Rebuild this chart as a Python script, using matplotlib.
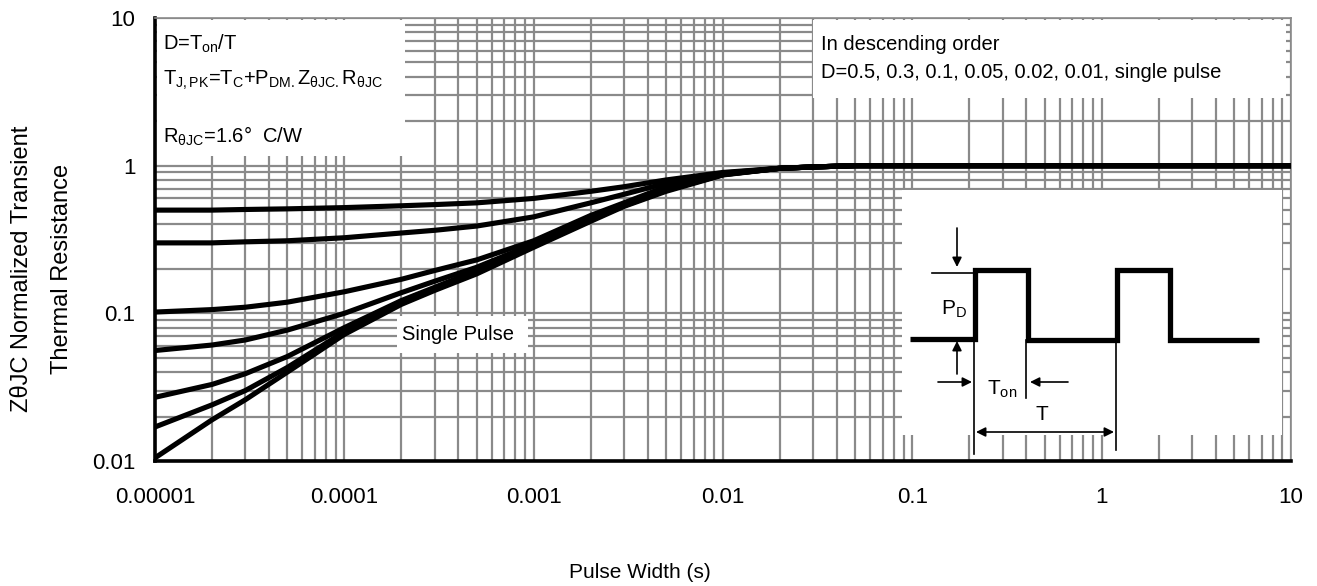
import numpy as np
import matplotlib
matplotlib.use("Agg")
import matplotlib.pyplot as plt
from matplotlib.patches import Rectangle
from matplotlib.ticker import FixedLocator, NullFormatter, LogLocator

plt.rcParams['font.family'] = ['Liberation Sans', 'DejaVu Sans']
plt.rcParams['mathtext.fontset'] = 'custom'
plt.rcParams['mathtext.rm'] = 'Liberation Sans'
plt.rcParams['mathtext.it'] = 'Liberation Sans'
plt.rcParams['mathtext.bf'] = 'Liberation Sans'

# ---------------- data ----------------
pulse_width = [1e-5, 2e-5, 3e-5, 5e-5, 1e-4, 2e-4, 3e-4, 5e-4, 1e-3, 2e-3, 3e-3, 5e-3,
               1e-2, 2e-2, 3e-2, 5e-2, 1e-1, 1.0, 10.0]
z_d050 = [0.50, 0.50, 0.505, 0.51, 0.52, 0.535, 0.545, 0.56, 0.60, 0.67, 0.72, 0.80,
          0.90, 0.96, 0.98, 1.0, 1.0, 1.0, 1.0]
z_d030 = [0.30, 0.30, 0.305, 0.31, 0.325, 0.35, 0.365, 0.39, 0.45, 0.56, 0.64, 0.76,
          0.89, 0.96, 0.98, 1.0, 1.0, 1.0, 1.0]
z_d010 = [0.102, 0.106, 0.110, 0.119, 0.14, 0.17, 0.195, 0.23, 0.31, 0.46, 0.56, 0.72,
          0.88, 0.96, 0.98, 1.0, 1.0, 1.0, 1.0]
z_d005 = [0.056, 0.061, 0.066, 0.077, 0.10, 0.138, 0.165, 0.205, 0.295, 0.445, 0.55, 0.70,
          0.875, 0.96, 0.98, 1.0, 1.0, 1.0, 1.0]
z_d002 = [0.027, 0.033, 0.039, 0.051, 0.080, 0.122, 0.150, 0.195, 0.29, 0.435, 0.54, 0.69,
          0.87, 0.96, 0.98, 1.0, 1.0, 1.0, 1.0]
z_d001 = [0.017, 0.024, 0.030, 0.043, 0.075, 0.118, 0.147, 0.19, 0.285, 0.43, 0.535, 0.68,
          0.87, 0.96, 0.98, 1.0, 1.0, 1.0, 1.0]
z_single = [0.0105, 0.019, 0.026, 0.040, 0.072, 0.115, 0.143, 0.185, 0.28, 0.42, 0.53, 0.67,
            0.865, 0.96, 0.98, 1.0, 1.0, 1.0, 1.0]
series = [z_d050, z_d030, z_d010, z_d005, z_d002, z_d001, z_single]

x_ticks = [1e-5, 1e-4, 1e-3, 1e-2, 1e-1, 1, 10]
x_tick_labels = ['0.00001', '0.0001', '0.001', '0.01', '0.1', '1', '10']
y_ticks = [0.01, 0.1, 1, 10]
y_tick_labels = ['0.01', '0.1', '1', '10']

# ---------------- figure ----------------
W, H = 1317, 586
fig = plt.figure(figsize=(W / 100, H / 100), dpi=100)
L, R, T, B = 155, 1291, 18, 461
ax = fig.add_axes([L / W, (H - B) / H, (R - L) / W, (B - T) / H])
ax.set_xscale('log')
ax.set_yscale('log')
ax.set_xlim(1e-5, 10)
ax.set_ylim(0.01, 10)

ax.xaxis.set_major_locator(FixedLocator(x_ticks))
ax.set_xticklabels(x_tick_labels)
ax.yaxis.set_major_locator(FixedLocator(y_ticks))
ax.set_yticklabels(y_tick_labels)
ax.xaxis.set_minor_locator(LogLocator(base=10, subs=range(2, 10), numticks=20))
ax.yaxis.set_minor_locator(LogLocator(base=10, subs=range(2, 10), numticks=20))
ax.xaxis.set_minor_formatter(NullFormatter())
ax.yaxis.set_minor_formatter(NullFormatter())
ax.tick_params(which='both', length=0)
ax.tick_params(axis='x', labelsize=16, pad=19)
ax.tick_params(axis='y', labelsize=16, pad=14)
ax.grid(which='both', color='#8a8a8a', lw=1.6)
ax.set_axisbelow(True)

for s in ['top', 'right']:
    ax.spines[s].set_color('#8a8a8a')
    ax.spines[s].set_linewidth(1.2)
for s in ['left', 'bottom']:
    ax.spines[s].set_color('black')
    ax.spines[s].set_linewidth(2.6)

for ys in series:
    ax.plot(pulse_width, ys, color='black', lw=3.7, solid_capstyle='butt',
            solid_joinstyle='round', zorder=3)

# ---------------- overlay in pixel coordinates ----------------
ov = fig.add_axes([0, 0, 1, 1], zorder=5)
ov.set_xlim(0, W)
ov.set_ylim(H, 0)
ov.axis('off')
ov.patch.set_alpha(0)

def box(x0, y0, x1, y1):
    ov.add_patch(Rectangle((x0, y0), x1 - x0, y1 - y0, facecolor='white', edgecolor='none'))

box(157, 20, 405, 156)
box(813, 20, 1286, 98)
box(397, 316, 528, 353)
box(902, 190, 1282, 435)

fs = 14.5
ov.text(163, 44, r'D=T$_\mathrm{on}$/T', fontsize=fs, va='center', ha='left')
ov.text(163, 80, r'T$_\mathrm{J,PK}$=T$_\mathrm{C}$+P$_\mathrm{DM.}$Z$_\mathrm{θJC.}$R$_\mathrm{θJC}$',
        fontsize=fs, va='center', ha='left')
ov.text(163, 136, r'R$_\mathrm{θJC}$=1.6°  C/W', fontsize=fs, va='center', ha='left')
ov.text(821, 45, 'In descending order', fontsize=fs, va='center', ha='left')
ov.text(821, 73, 'D=0.5, 0.3, 0.1, 0.05, 0.02, 0.01, single pulse', fontsize=fs, va='center', ha='left')
ov.text(402, 335, 'Single Pulse', fontsize=fs, va='center', ha='left')

# axis titles
ov.text(22, 269, 'ZθJC Normalized Transient', fontsize=17, rotation=90, va='center', ha='center')
ov.text(62, 269, 'Thermal Resistance', fontsize=17, rotation=90, va='center', ha='center')
ov.text(640, 572, 'Pulse Width (s)', fontsize=15, va='center', ha='center')

# ---------------- pulse diagram ----------------
thick = dict(color='black', lw=3.8, solid_joinstyle='miter', solid_capstyle='butt')
thin = dict(color='black', lw=1.2)
wx = [910, 975, 975, 1028, 1028, 1117, 1117, 1170, 1170, 1259]
wy = [339, 339, 270, 270, 340, 340, 270, 270, 340, 340]
ov.plot(wx, wy, **thick)
ov.plot([932, 975], [273, 273], **thin)
ov.plot([974, 974], [339, 454], **thin)
ov.plot([1026, 1026], [340, 398], **thin)
ov.plot([1116, 1116], [340, 450], **thin)

arw = dict(arrowstyle='-|>', color='black', lw=1.2, mutation_scale=14, shrinkA=0, shrinkB=0)
ov.annotate('', xy=(957, 267), xytext=(957, 228), arrowprops=arw)
ov.annotate('', xy=(957, 341), xytext=(957, 374), arrowprops=arw)
ov.annotate('', xy=(972, 382), xytext=(938, 382), arrowprops=arw)
ov.annotate('', xy=(1030, 382), xytext=(1068, 382), arrowprops=arw)
ov.annotate('', xy=(976, 432), xytext=(1114, 432),
            arrowprops=dict(arrowstyle='<|-|>', color='black', lw=1.2, mutation_scale=14,
                            shrinkA=0, shrinkB=0))
ov.text(954, 309, r'P$_\mathrm{D}$', fontsize=15, va='center', ha='center')
ov.text(1002, 389, r'T$_\mathrm{on}$', fontsize=15, va='center', ha='center')
ov.text(1042, 414, 'T', fontsize=15, va='center', ha='center')

fig.savefig('out.png', dpi=100)
